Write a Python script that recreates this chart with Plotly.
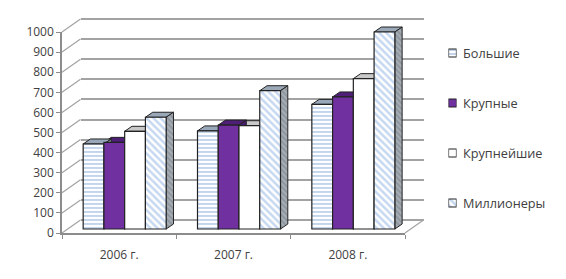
import plotly.graph_objects as go

W, H = 566, 279
years = ["2006 г.", "2007 г.", "2008 г."]
series_names = ["Большие", "Крупные", "Крупнейшие", "Миллионеры"]
bolshie = [423, 488, 620]
krupnye = [431, 517, 657]
krupneishie = [486, 514, 748]
millionery = [556, 688, 980]
y_ticks = list(range(0, 1001, 100))
all_values = [bolshie, krupnye, krupneishie, millionery]

PX_PER_UNIT = 0.201
PAD = 50                        # value units of slack around the hidden planes
front = [62, 405, 233, 32]      # left, right, bottom, top in px
bar_plane = [67.5, 410.5, 229, 28]
back = [80.5, 423.5, 220, 19]
key = [448.5, 456.5, 228, 28]
DEPTH_X, DEPTH_Y = 7.3, 5.0
GRID = "#a3a3a3"
AXIS = "#8c8c8c"
TEXT = "#404040"
FONT = "Open Sans"

def xd(p):
    return [p[0] / W, p[1] / W]
def yd(p):
    return [1 - p[2] / H, 1 - p[3] / H]
def yd_pad(p):
    return [1 - (p[2] + PAD * PX_PER_UNIT) / H, 1 - (p[3] - PAD * PX_PER_UNIT) / H]
PAD_RANGE = [-PAD, 1000 + PAD]

fill_styles = [
    dict(color="white", pattern=dict(shape="-", fgcolor="#6f9bd4", bgcolor="white", size=4, solidity=0.42)),
    dict(color="#7030a0"),
    dict(color="white"),
    dict(color="white", pattern=dict(shape="\\", fgcolor="#8db2e2", bgcolor="white", size=5, solidity=0.5)),
]
top_colors = ["#98a8ba", "#4f1f78", "#c9c9c9", "#9aa8b8"]
side_colors = ["#8f98a3", "#4a1c70", "#b8b8b8", "#9aa1a9"]
side_hatch = [None, None, None, dict(shape="\\", fgcolor="#6f7780", bgcolor="#a6adb5", size=4, solidity=0.45)]

fig = go.Figure()

# invisible carrier so that the front category axis draws its ticks and labels
fig.add_trace(go.Scatter(x=years, y=[0] * 3, mode="none", showlegend=False, hoverinfo="skip",
                         xaxis="x", yaxis="y"))
# invisible carrier for back wall gridlines
fig.add_trace(go.Scatter(x=[0, 1], y=[0, 0], mode="none", showlegend=False, hoverinfo="skip",
                         xaxis="x2", yaxis="y2"))

bar_w = 83.0 / 4 / ((bar_plane[1] - bar_plane[0]) / 3)
dx = DEPTH_X / ((bar_plane[1] - bar_plane[0]) / 3)
dy = DEPTH_Y / PX_PER_UNIT

# depth faces: right-most drawn first so that left neighbours overlap correctly
for s in range(3, -1, -1):
    for c in range(3):
        v = all_values[s][c]
        x0 = c + (s - 2) * bar_w
        x1 = x0 + bar_w
        fig.add_trace(go.Scatter(
            x=[x0, x0 + dx, x1 + dx, x1, x0], y=[v, v + dy, v + dy, v, v],
            mode="lines", fill="toself", fillcolor=top_colors[s],
            line=dict(color="#222222", width=1), showlegend=False, hoverinfo="skip",
            xaxis="x3", yaxis="y3"))
        side = dict(fillpattern=side_hatch[s]) if side_hatch[s] else {}
        fig.add_trace(go.Scatter(
            x=[x1, x1 + dx, x1 + dx, x1, x1], y=[v, v + dy, dy, 0, v],
            mode="lines", fill="toself", fillcolor=side_colors[s],
            line=dict(color="#222222", width=1), showlegend=False, hoverinfo="skip",
            xaxis="x3", yaxis="y3", **side))

for s, name in enumerate(series_names):
    fig.add_trace(go.Bar(
        x=[0, 1, 2], y=all_values[s], name=name, width=bar_w, offset=(s - 2) * bar_w,
        marker=dict(line=dict(color="#222222", width=1.2), **fill_styles[s]),
        showlegend=False, xaxis="x4", yaxis="y4"))
    # legend key drawn with the same fill as its series
    fig.add_trace(go.Bar(
        x=[1], y=[name], orientation="h", width=0.16, name=name,
        marker=dict(line=dict(color="#222222", width=1.2), **fill_styles[s]),
        showlegend=False, hoverinfo="skip", xaxis="x5", yaxis="y5"))

# receding lines joining the front axes to the back wall
shapes = []
for t in y_ticks:
    f = t / 1000
    shapes.append(dict(type="line", xref="paper", yref="paper", layer="below",
                       x0=front[0] / W, x1=back[0] / W,
                       y0=1 - (front[2] + (front[3] - front[2]) * f) / H,
                       y1=1 - (back[2] + (back[3] - back[2]) * f) / H,
                       line=dict(color=GRID, width=1.2)))
shapes.append(dict(type="line", xref="paper", yref="paper", layer="below",
                   x0=front[1] / W, x1=back[1] / W, y0=1 - front[2] / H, y1=1 - back[2] / H,
                   line=dict(color=GRID, width=1.2)))

annotations = [dict(text=name, xref="paper", yref="y5", x=461 / W, y=name, xanchor="left",
                    yanchor="middle", showarrow=False, font=dict(size=12.7, color=TEXT, family=FONT))
               for name in series_names]

hidden = dict(visible=False, fixedrange=True)
fig.update_layout(
    width=W, height=H, margin=dict(l=0, r=0, t=0, b=0, autoexpand=False), autosize=False,
    paper_bgcolor="white", plot_bgcolor="rgba(0,0,0,0)",
    font=dict(family=FONT, size=12, color=TEXT),
    barmode="overlay", shapes=shapes, annotations=annotations, showlegend=False,
    xaxis=dict(domain=xd(front), type="category", categoryorder="array", categoryarray=years,
               range=[-0.5, 2.5], tickson="boundaries", ticks="outside", ticklen=4, tickcolor=AXIS,
               showline=True, linecolor=AXIS, linewidth=1.5, showgrid=False, ticklabelstandoff=10,
               fixedrange=True),
    yaxis=dict(domain=yd(front), range=[0, 1000], tickvals=y_ticks, ticks="outside", ticklen=4,
               tickcolor=AXIS, showline=True, linecolor=AXIS, linewidth=1.5, showgrid=False,
               zeroline=False, fixedrange=True),
    xaxis2=dict(domain=xd(back), range=[0, 1], anchor="y2", **hidden),
    yaxis2=dict(domain=yd_pad(back), range=PAD_RANGE, anchor="x2", tickvals=y_ticks, showgrid=True,
                gridcolor=GRID, gridwidth=1.5, showticklabels=False, ticks="", zeroline=False,
                showline=False, fixedrange=True),
    xaxis3=dict(domain=xd(bar_plane), range=[-0.5, 2.5], anchor="y3", **hidden),
    yaxis3=dict(domain=yd_pad(bar_plane), range=PAD_RANGE, anchor="x3", **hidden),
    xaxis4=dict(domain=xd(bar_plane), range=[-0.5, 2.5], anchor="y4", **hidden),
    yaxis4=dict(domain=yd_pad(bar_plane), range=PAD_RANGE, anchor="x4", **hidden),
    xaxis5=dict(domain=xd(key), range=[0, 1], anchor="y5", **hidden),
    yaxis5=dict(domain=yd(key), type="category", categoryorder="array", categoryarray=series_names,
                range=[3.5, -0.5], anchor="x5", **hidden),
)
fig.write_html("out.html", config=dict(displayModeBar=False),
               post_script="document.body.style.margin='0';document.documentElement.style.overflow='hidden';")
